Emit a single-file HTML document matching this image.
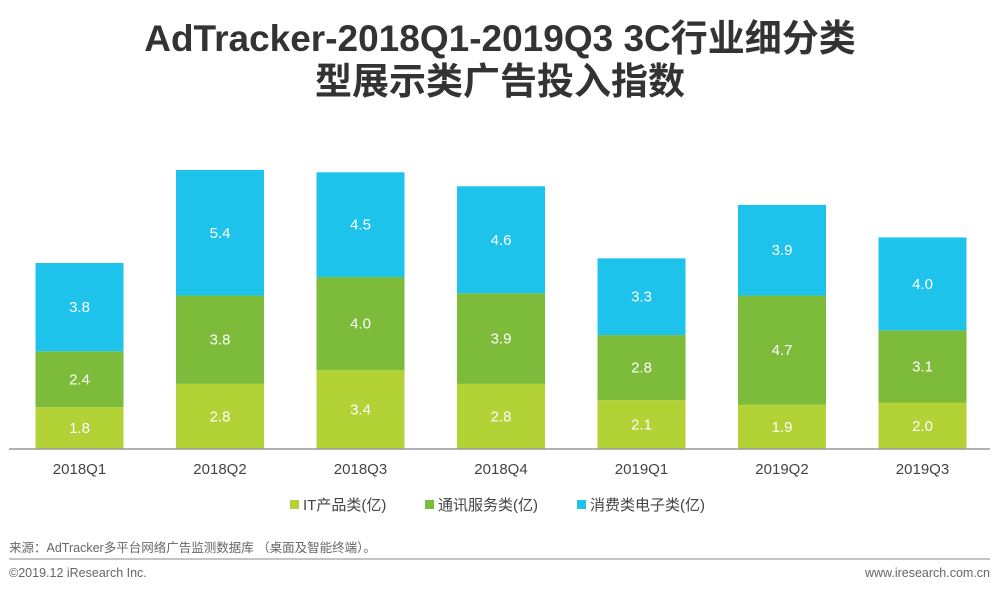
<!DOCTYPE html>
<html><head><meta charset="utf-8"><style>
body{margin:0;background:#fff;width:1000px;height:592px;overflow:hidden;font-family:"Liberation Sans","Noto Sans CJK SC",sans-serif}
</style></head><body>
<svg width="1000" height="592" xmlns="http://www.w3.org/2000/svg">
<text x="500" y="51" text-anchor="middle" font-size="37" font-weight="bold" fill="#333" font-family="Liberation Sans,Noto Sans CJK SC,sans-serif">AdTracker-2018Q1-2019Q3 3C行业细分类</text>
<text x="500" y="94" text-anchor="middle" font-size="37" font-weight="bold" fill="#333" font-family="Liberation Sans,Noto Sans CJK SC,sans-serif">型展示类广告投入指数</text>
<g id="bars"></g>
<line x1="9" y1="449" x2="990" y2="449" stroke="#999" stroke-width="1.5"/>
<g id="legend" font-size="15" fill="#444">
<rect x="290" y="500" width="9" height="9" fill="#b2d235"/>
<text x="303" y="510">IT产品类(亿)</text>
<rect x="425" y="500" width="9" height="9" fill="#7dbb3a"/>
<text x="438" y="510">通讯服务类(亿)</text>
<rect x="577" y="500" width="9" height="9" fill="#1ec3ec"/>
<text x="590" y="510">消费类电子类(亿)</text>
</g>
<text x="9" y="552" font-size="12.5" fill="#666">来源：AdTracker多平台网络广告监测数据库 （桌面及智能终端）。</text>
<line x1="9" y1="559" x2="990" y2="559" stroke="#888" stroke-width="1"/>
<text x="9" y="577" font-size="12.5" fill="#666">©2019.12 iResearch Inc.</text>
<text x="990" y="577" font-size="12.5" fill="#666" text-anchor="end">www.iresearch.com.cn</text>
</svg>
<script>
const categories=["2018Q1","2018Q2","2018Q3","2018Q4","2019Q1","2019Q2","2019Q3"];
const itValues=[1.8,2.8,3.4,2.8,2.1,1.9,2.0];
const telecomValues=[2.4,3.8,4.0,3.9,2.8,4.7,3.1];
const consumerValues=[3.8,5.4,4.5,4.6,3.3,3.9,4.0];
const NS="http://www.w3.org/2000/svg";
const base=449, scale=23.25, x0=79.5, step=140.5, bw=88;
const y=v=>base-v*scale;
const xc=i=>x0+i*step;
const g=document.getElementById('bars');
const series=[[itValues,"#b2d235","it"],[telecomValues,"#7dbb3a","telecom"],[consumerValues,"#1ec3ec","consumer"]];
categories.forEach((c,i)=>{
  let cum=0;
  series.forEach(([vals,col,nm])=>{
    const v=vals[i];
    const r=document.createElementNS(NS,'rect');
    r.setAttribute('x',xc(i)-bw/2);r.setAttribute('width',bw);
    r.setAttribute('y',y(cum+v));r.setAttribute('height',v*scale);
    r.setAttribute('fill',col);
    
    
    g.appendChild(r);
    const t=document.createElementNS(NS,'text');
    t.setAttribute('x',xc(i));t.setAttribute('y',y(cum+v/2)+5);
    t.setAttribute('text-anchor','middle');t.setAttribute('font-size','15');t.setAttribute('fill','#fff');
    t.textContent=v.toFixed(1);
    
    
    g.appendChild(t);
    cum+=v;
  });
  const l=document.createElementNS(NS,'text');
  l.setAttribute('x',xc(i));l.setAttribute('y',474);
  l.setAttribute('text-anchor','middle');l.setAttribute('font-size','15');l.setAttribute('fill','#444');
  l.textContent=c;
  
  
  g.appendChild(l);
});
</script>
</body></html>
